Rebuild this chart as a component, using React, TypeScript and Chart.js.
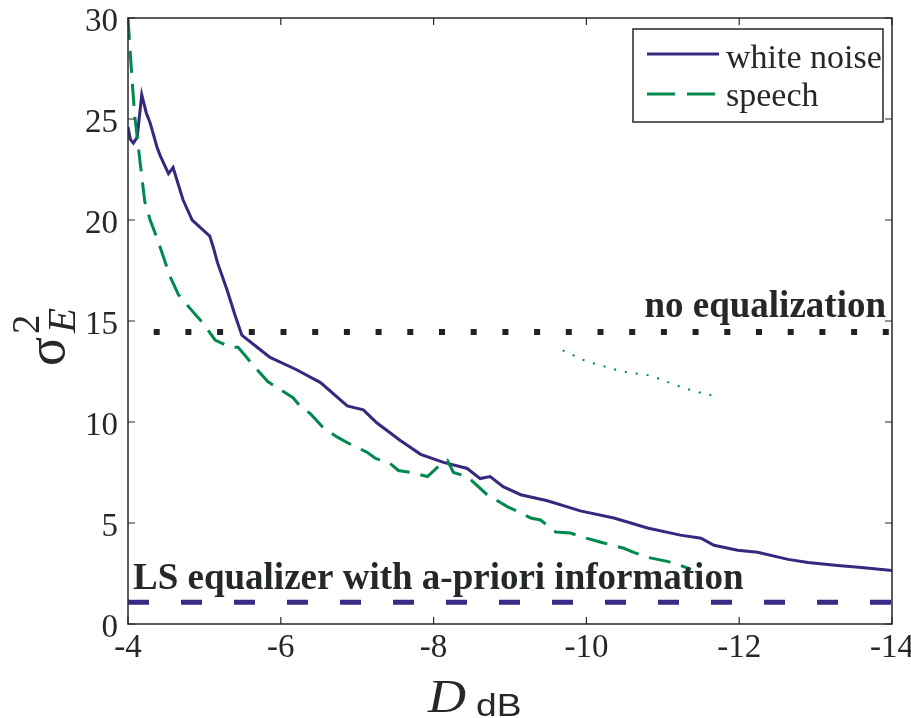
import React, { useEffect, useRef } from 'react';
import { Chart, registerables } from 'chart.js';

Chart.register(...registerables);

// ---- data ----
const whiteNoiseD = [-4.0, -4.03, -4.07, -4.12, -4.18, -4.24, -4.29, -4.38, -4.42, -4.53, -4.59, -4.72, -4.84, -5.07, -5.12, -5.17, -5.3, -5.4, -5.49, -5.69, -5.86, -6.2, -6.52, -6.87, -7.08, -7.26, -7.56, -7.83, -8.13, -8.44, -8.61, -8.74, -8.91, -9.14, -9.49, -9.92, -10.36, -10.8, -11.23, -11.5, -11.67, -11.98, -12.24, -12.64, -12.9, -13.29, -13.6, -14.0];
const whiteNoiseSigma = [24.6, 24.0, 23.8, 24.1, 26.2, 25.3, 24.8, 23.6, 23.2, 22.3, 22.6, 21.0, 20.0, 19.2, 18.6, 17.9, 16.5, 15.3, 14.3, 13.7, 13.2, 12.6, 11.95, 10.8, 10.6, 9.95, 9.1, 8.4, 8.0, 7.7, 7.2, 7.3, 6.8, 6.4, 6.1, 5.6, 5.25, 4.75, 4.4, 4.25, 3.9, 3.65, 3.55, 3.2, 3.05, 2.9, 2.8, 2.65];

const speechD = [-4.0, -4.05, -4.09, -4.16, -4.22, -4.29, -4.39, -4.55, -4.66, -4.84, -4.98, -5.14, -5.34, -5.44, -5.53, -5.64, -5.83, -6.16, -6.25, -6.39, -6.56, -6.74, -6.91, -7.13, -7.24, -7.43, -7.54, -7.7, -7.92, -8.09, -8.18, -8.26, -8.44, -8.7, -8.97, -9.14, -9.27, -9.4, -9.6, -9.79, -10.0, -10.19, -10.49, -10.62, -10.8, -11.06, -11.23, -11.37];
const speechSigma = [30.0, 27.1, 25.1, 22.8, 20.9, 20.0, 19.0, 17.2, 16.3, 15.5, 14.9, 14.06, 13.7, 13.7, 13.3, 12.8, 12.0, 11.2, 10.8, 10.4, 9.7, 9.25, 8.9, 8.5, 8.2, 7.95, 7.6, 7.5, 7.3, 7.9, 8.1, 7.5, 7.3, 6.4, 5.8, 5.5, 5.25, 5.15, 4.55, 4.5, 4.25, 4.05, 3.75, 3.55, 3.3, 3.1, 2.9, 2.7];

const speechStrayD = [-9.69, -10.0, -10.47, -10.84, -11.26, -11.54, -11.69];
const speechStraySigma = [13.55, 13.0, 12.5, 12.3, 11.7, 11.4, 11.3];

const noEqD = [-4, -14];
const noEqSigma = [14.45, 14.45];
const lsD = [-4, -14];
const lsSigma = [1.08, 1.08];

const xTicks = [-4, -6, -8, -10, -12, -14];
const yTicks = [0, 5, 10, 15, 20, 25, 30];

const seriesLabels = ['white noise', 'speech'];
const noEqLabel = 'no equalization';
const lsLabel = 'LS equalizer with a-priori information';

// ---- styles ----
const BLUE = '#36287f';
const GREEN = '#00894d';
const INK = '#25282a';
const SERIF = '"Liberation Serif", "Times New Roman", serif';
const SANS = '"Liberation Sans", Arial, sans-serif';

const pts = (xs: number[], ys: number[]) => xs.map((x, i) => ({ x, y: ys[i] }));

const decorPlugin = {
  id: 'decor',
  afterDatasetsDraw(chart: any) {
    const { ctx, chartArea: a, scales } = chart;
    const xs = scales.x;
    const ys = scales.y;
    ctx.save();

    // frame
    ctx.strokeStyle = INK;
    ctx.lineWidth = 1.5;
    ctx.strokeRect(a.left, a.top, a.right - a.left, a.bottom - a.top);

    // inward ticks
    ctx.lineWidth = 1.2;
    const tl = 7;
    ctx.beginPath();
    xTicks.forEach((v) => {
      const p = xs.getPixelForValue(v);
      ctx.moveTo(p, a.bottom);
      ctx.lineTo(p, a.bottom - tl);
      ctx.moveTo(p, a.top);
      ctx.lineTo(p, a.top + tl);
    });
    yTicks.forEach((v) => {
      const p = ys.getPixelForValue(v);
      ctx.moveTo(a.left, p);
      ctx.lineTo(a.left + tl, p);
      ctx.moveTo(a.right, p);
      ctx.lineTo(a.right - tl, p);
    });
    ctx.stroke();

    // annotations
    ctx.fillStyle = INK;
    ctx.font = `bold 37px ${SERIF}`;
    ctx.textBaseline = 'alphabetic';
    ctx.textAlign = 'right';
    ctx.fillText(noEqLabel, a.right - 6, ys.getPixelForValue(noEqSigma[0]) - 15);
    ctx.textAlign = 'left';
    ctx.fillText(lsLabel, a.left + 5, ys.getPixelForValue(lsSigma[0]) - 13);

    // y axis title: sigma^2_E rotated
    ctx.save();
    ctx.translate(64, 366);
    ctx.rotate(-Math.PI / 2);
    ctx.textAlign = 'left';
    ctx.font = `54px ${SERIF}`;
    ctx.fillText('σ', 0, 0);
    ctx.font = `39px ${SERIF}`;
    ctx.fillText('2', 32, -25);
    ctx.font = `italic 41px ${SERIF}`;
    ctx.fillText('E', 33, 11);
    ctx.restore();

    // x axis title: D_dB
    ctx.textAlign = 'left';
    ctx.save();
    ctx.translate(428, 712);
    ctx.scale(1.12, 1);
    ctx.font = `italic 47px ${SERIF}`;
    ctx.fillText('D', 0, 0);
    ctx.restore();
    ctx.save();
    ctx.translate(476, 716);
    ctx.scale(1.2, 1);
    ctx.font = `31px ${SANS}`;
    ctx.fillText('dB', 0, 0);
    ctx.restore();

    // legend
    const lx = a.right - 259;
    const ly = a.top + 11;
    const lw = 250;
    const lh = 93;
    ctx.fillStyle = '#ffffff';
    ctx.fillRect(lx, ly, lw, lh);
    ctx.strokeStyle = INK;
    ctx.lineWidth = 1.5;
    ctx.strokeRect(lx, ly, lw, lh);

    ctx.lineWidth = 3;
    ctx.strokeStyle = BLUE;
    ctx.setLineDash([]);
    ctx.beginPath();
    ctx.moveTo(lx + 14, ly + 25);
    ctx.lineTo(lx + 86, ly + 25);
    ctx.stroke();

    ctx.strokeStyle = GREEN;
    ctx.setLineDash([28, 12]);
    ctx.beginPath();
    ctx.moveTo(lx + 14, ly + 65);
    ctx.lineTo(lx + 86, ly + 65);
    ctx.stroke();
    ctx.setLineDash([]);

    ctx.fillStyle = INK;
    ctx.font = `34px ${SERIF}`;
    ctx.fillText(seriesLabels[0], lx + 93, ly + 39);
    ctx.fillText(seriesLabels[1], lx + 93, ly + 77);

    ctx.restore();
  },
};

export default function App() {
  const ref = useRef<HTMLCanvasElement | null>(null);

  useEffect(() => {
    const canvas = ref.current;
    if (!canvas) return;
    const chart = new Chart(canvas, {
      type: 'line',
      data: {
        datasets: [
          {
            label: 'no equalization',
            data: pts(noEqD, noEqSigma),
            borderColor: '#1e2224',
            borderWidth: 6,
            borderDash: [6, 25.7],
            borderDashOffset: 6,
            borderCapStyle: 'butt',
            pointRadius: 0,
            fill: false,
          },
          {
            label: 'LS',
            data: pts(lsD, lsSigma),
            borderColor: '#382b86',
            borderWidth: 5,
            borderDash: [21, 32],
            pointRadius: 0,
            fill: false,
          },
          {
            label: 'speech stray',
            data: pts(speechStrayD, speechStraySigma),
            borderColor: GREEN,
            borderWidth: 2,
            borderDash: [2, 9],
            pointRadius: 0,
            fill: false,
          },
          {
            label: seriesLabels[1],
            data: pts(speechD, speechSigma),
            borderColor: GREEN,
            borderWidth: 3,
            borderDash: [22, 11],
            pointRadius: 0,
            tension: 0,
            fill: false,
          },
          {
            label: seriesLabels[0],
            data: pts(whiteNoiseD, whiteNoiseSigma),
            borderColor: BLUE,
            borderWidth: 3,
            pointRadius: 0,
            tension: 0,
            fill: false,
          },
        ],
      },
      options: {
        animation: false,
        responsive: false,
        devicePixelRatio: 1,
        layout: { padding: { left: 0, top: 18, right: 19, bottom: 0 } },
        plugins: {
          legend: { display: false },
          tooltip: { enabled: false },
        },
        scales: {
          x: {
            type: 'linear',
            min: -14,
            max: -4,
            reverse: true,
            afterBuildTicks: (s: any) => {
              s.ticks = xTicks.map((v) => ({ value: v }));
            },
            afterFit: (s: any) => {
              s.height = 94;
              s.paddingLeft = 0;
              s.paddingRight = 0;
            },
            grid: { display: false, drawTicks: false },
            border: { display: false },
            ticks: {
              color: INK,
              padding: 5,
              autoSkip: false,
              maxRotation: 0,
              font: { family: SERIF, size: 33 },
              callback: (v: any) => String(v),
            },
          },
          y: {
            type: 'linear',
            min: 0,
            max: 30,
            afterBuildTicks: (s: any) => {
              s.ticks = yTicks.map((v) => ({ value: v }));
            },
            afterFit: (s: any) => {
              s.width = 128;
              s.paddingTop = 0;
              s.paddingBottom = 0;
            },
            grid: { display: false, drawTicks: false },
            border: { display: false },
            ticks: {
              color: INK,
              padding: 10,
              font: { family: SERIF, size: 33, lineHeight: '8px' },
              callback: (v: any) => ['', String(v)],
            },
          },
        },
      },
      plugins: [decorPlugin],
    });
    return () => chart.destroy();
  }, []);

  return (
    <div style={{ position: 'absolute', left: 0, top: 0, width: 911, height: 718, background: '#fff' }}>
      <canvas ref={ref} width={911} height={718} style={{ display: 'block', width: 911, height: 718 }} />
    </div>
  );
}
